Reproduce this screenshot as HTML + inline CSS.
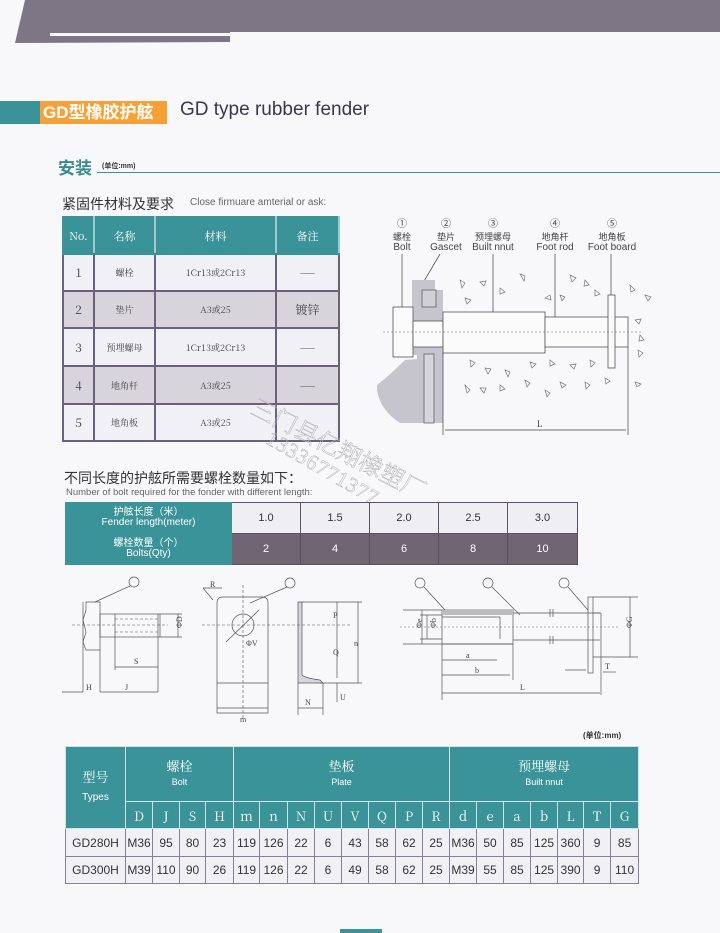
<!DOCTYPE html>
<html><head><meta charset="utf-8"><style>
*{margin:0;padding:0;box-sizing:border-box}
body{width:720px;height:933px;background:#f8f8fa;position:relative;overflow:hidden;font-family:"Liberation Sans","Noto Sans CJK SC",sans-serif;color:#333}
.a{position:absolute;white-space:nowrap}
table{position:absolute;border-collapse:collapse;table-layout:fixed}
td{text-align:center;vertical-align:middle;padding:0;overflow:hidden;white-space:nowrap}
.t1 td{border:2px solid #6a6080;font-family:"Noto Serif CJK SC","Liberation Serif",serif;font-size:9px;color:#444}
.t1 tr.h td{background:#3a9399;color:#fff;font-size:11px;border-color:#3a9399;border-right-color:#9fc9cc}
.t1 tr.g td{background:#d7d4dc}
.t1 tr.w td{background:#f1f0f4}
.t2 td{border:1px solid #5a5062;font-size:11px}
.t3 td{border:1px solid #8a8096;font-size:12px;color:#333}
.t3 .h td{background:#3a9399;color:#fff;border-color:#cfe4e6;font-family:"Noto Serif CJK SC","Liberation Serif",serif;font-size:13px}
.t3 .d td{background:#f1f0f4;font-size:12px}
.wm{position:absolute;color:transparent;-webkit-text-stroke:0.5px #b4b4b8;font-family:"Liberation Serif","Noto Serif CJK SC",serif;white-space:nowrap;transform-origin:0 0}
</style></head><body>
<svg class="a" style="left:0;top:0" width="720" height="50"><polygon points="25,0 720,0 720,32 230,32 230,42 15,43" fill="#7e7585"/><rect x="50" y="33" width="180" height="3" fill="#f8f8fa"/></svg>
<div class="a" style="left:0;top:101px;width:40px;height:23px;background:#3a9399"></div>
<div class="a" style="left:40px;top:101px;width:127px;height:23px;background:#f7a036;color:#fff;font-weight:bold;font-size:17px;line-height:23px;padding-left:3px">GD型橡胶护舷</div>
<div class="a" style="left:180px;top:99px;font-size:19px;color:#3a3650">GD type rubber fender</div>
<div class="a" style="left:58px;top:154px;font-size:17px;font-weight:bold;color:#3a8a90">安装</div>
<div class="a" style="left:102px;top:161px;font-size:7px;font-weight:bold;color:#333">(单位:mm)</div>
<div class="a" style="left:97px;top:172px;width:623px;height:1px;background:#3a9399"></div>
<div class="a" style="left:62px;top:194px;font-size:14px;color:#333">紧固件材料及要求</div>
<div class="a" style="left:190px;top:197px;font-size:10px;color:#666">Close firmuare amterial or ask:</div>

<table class="t1" style="left:62px;top:216px;width:276px">
<colgroup><col style="width:31px"><col style="width:61px"><col style="width:121px"><col style="width:63px"></colgroup>
<tr class="h" style="height:37px"><td>No.</td><td>名称</td><td>材料</td><td>备注</td></tr>
<tr class="w" style="height:37px"><td style="font-size:12px">1</td><td>螺栓</td><td>1Cr13或2Cr13</td><td>——</td></tr>
<tr class="g" style="height:37px"><td style="font-size:12px">2</td><td>垫片</td><td>A3或25</td><td style="font-size:12px">镀锌</td></tr>
<tr class="w" style="height:38px"><td style="font-size:12px">3</td><td>预埋螺母</td><td>1Cr13或2Cr13</td><td>——</td></tr>
<tr class="g" style="height:38px"><td style="font-size:12px">4</td><td>地角杆</td><td>A3或25</td><td>——</td></tr>
<tr class="w" style="height:37px"><td style="font-size:12px">5</td><td>地角板</td><td>A3或25</td><td></td></tr>
</table>

<svg class="a" style="left:360px;top:210px" width="300" height="240" font-family="Liberation Sans,Noto Sans CJK SC,sans-serif" font-size="10" fill="#444">
<g text-anchor="middle"><text x="42" y="17">①</text><text x="86" y="17">②</text><text x="133" y="17">③</text><text x="195" y="17">④</text><text x="252" y="17">⑤</text>
<text x="42" y="30" font-size="9">螺栓</text><text x="42" y="40">Bolt</text>
<text x="86" y="30" font-size="9">垫片</text><text x="86" y="40">Gascet</text>
<text x="133" y="30" font-size="9">预埋螺母</text><text x="133" y="40">Built nnut</text>
<text x="195" y="30" font-size="9">地角杆</text><text x="195" y="40">Foot rod</text>
<text x="252" y="30" font-size="9">地角板</text><text x="252" y="40">Foot board</text></g>
<g stroke="#555" stroke-width="0.8" fill="none"><line x1="42" y1="44" x2="42" y2="97"/><line x1="80" y1="44" x2="60" y2="78"/><line x1="133" y1="44" x2="133" y2="115"/><line x1="195" y1="44" x2="195" y2="120"/><line x1="251" y1="44" x2="251" y2="85"/></g>
<path d="M17,175 Q30,165 45,150 L83,147 L83,213 L40,213 Q20,200 17,180 Z" fill="#c6c4cc"/>
<path d="M52,70 L75,70 L75,80 L83,80 L83,213 L57,213 L57,145 L52,145 Z" fill="#c6c4cc"/>
<rect x="62" y="80" width="14" height="17" fill="#d0ced6" stroke="#555" stroke-width="0.7"/>
<rect x="64" y="144" width="10" height="69" fill="#d6d4dc" stroke="#555" stroke-width="0.7"/>
<g fill="#fbfbfc" stroke="#555" stroke-width="0.8"><rect x="33" y="97" width="20" height="50"/><rect x="53" y="111" width="30" height="26"/><rect x="83" y="102" width="102" height="41"/><rect x="185" y="107" width="83" height="30"/><rect x="248" y="85" width="7" height="73"/></g>
<line x1="23" y1="122" x2="283" y2="122" stroke="#666" stroke-width="0.6" stroke-dasharray="2,2"/>
<g stroke="#444" stroke-width="0.7"><line x1="83" y1="143" x2="83" y2="225"/><line x1="268" y1="137" x2="268" y2="225"/><line x1="85" y1="220" x2="266" y2="220"/></g>
<text x="177" y="217" font-size="9" font-family="Liberation Serif">L</text>
<g fill="none" stroke="#777" stroke-width="0.7">
<path d="M100,70 l5,3 -3,5z"/><path d="M120,72 l6,-1 -2,5z"/><path d="M140,78 l5,4 -5,2z"/><path d="M160,64 l5,2 -1,5z"/><path d="M185,88 l5,-3 1,5z"/><path d="M210,65 l6,3 -4,4z"/><path d="M225,70 l4,5 -5,1z"/><path d="M235,80 l5,4 -5,2z"/><path d="M270,75 l5,5 -4,2z"/><path d="M285,85 l6,2 -3,4z"/><path d="M105,88 l6,2 -4,4z"/><path d="M200,85 l5,2 -3,4z"/><path d="M110,150 l5,3 -4,4z"/><path d="M125,158 l6,1 -3,5z"/><path d="M145,160 l5,2 -2,5z"/><path d="M170,152 l6,2 -4,4z"/><path d="M190,150 l5,4 -5,2z"/><path d="M210,155 l6,-1 -2,5z"/><path d="M230,150 l5,3 -4,4z"/><path d="M140,175 l5,4 -5,2z"/><path d="M165,170 l5,3 -3,4z"/><path d="M200,172 l6,3 -4,3z"/><path d="M225,172 l5,3 -4,4z"/><path d="M105,175 l5,5 -3,3z"/><path d="M120,178 l6,0 -2,5z"/><path d="M185,180 l5,3 -3,4z"/><path d="M245,168 l5,3 -4,3z"/><path d="M275,110 l6,-1 -2,5z"/><path d="M280,125 l4,5 -5,1z"/><path d="M278,140 l5,3 -4,4z"/><path d="M275,172 l6,2 -4,3z"/></g>
</svg>

<div class="wm" style="left:262px;top:388px;font-size:24px;transform:rotate(27deg)">三门县亿翔橡塑厂</div>
<div class="wm" style="left:274px;top:426px;font-size:21px;letter-spacing:1px;transform:rotate(30deg)">13336771377</div>

<div class="a" style="left:64px;top:468px;font-size:14px;color:#333">不同长度的护舷所需要螺栓数量如下：</div>
<div class="a" style="left:66px;top:487px;font-size:9.5px;color:#666">Number of bolt required for the fonder with different length:</div>
<table class="t2" style="left:65px;top:502px;width:512px">
<colgroup><col style="width:166px"><col style="width:69px"><col style="width:69px"><col style="width:69px"><col style="width:69px"><col style="width:70px"></colgroup>
<tr style="height:31px"><td style="background:#3a9399;color:#fff;font-size:10px;line-height:10px;border-color:#3a9399">护舷长度（米）<br>Fender length(meter)</td><td style="background:#efeef2">1.0</td><td style="background:#efeef2">1.5</td><td style="background:#efeef2">2.0</td><td style="background:#efeef2">2.5</td><td style="background:#efeef2">3.0</td></tr>
<tr style="height:31px"><td style="background:#3a9399;color:#fff;font-size:10px;line-height:10px;border-color:#3a9399">螺栓数量（个）<br>Bolts(Qty)</td><td style="background:#6e6472;color:#fff">2</td><td style="background:#6e6472;color:#fff">4</td><td style="background:#6e6472;color:#fff">6</td><td style="background:#6e6472;color:#fff">8</td><td style="background:#6e6472;color:#fff">10</td></tr>
</table>

<svg class="a" style="left:0;top:570px" width="720" height="160" font-family="Liberation Serif,serif" font-size="8" fill="#444">
<g stroke="#555" stroke-width="0.7" fill="none">
<circle cx="134" cy="12" r="5"/><line x1="130" y1="16" x2="95" y2="32"/>
<path d="M86,32 L100,32 L100,80 L86,80 L83,72 L86,62 L83,50 L86,40 Z"/><line x1="83" y1="32" x2="83" y2="122"/><line x1="100" y1="80" x2="100" y2="122"/>
<rect x="100" y="44" width="60" height="23"/><line x1="115" y1="44" x2="115" y2="100"/><line x1="158" y1="44" x2="158" y2="122"/>
<line x1="160" y1="44" x2="182" y2="44"/><line x1="160" y1="67" x2="182" y2="67"/><line x1="178" y1="44" x2="178" y2="67"/>
<line x1="115" y1="97" x2="158" y2="97"/><line x1="100" y1="122" x2="158" y2="122"/><line x1="62" y1="122" x2="83" y2="122"/>
<path d="M217,33 Q217,27 223,27 L262,27 Q268,27 268,33 L268,143 L217,143 Z"/><line x1="217" y1="113" x2="268" y2="113"/>
<circle cx="243" cy="55" r="11"/><line x1="226" y1="72" x2="259" y2="40"/><line x1="217" y1="138" x2="268" y2="138"/>
<line x1="203" y1="18" x2="213" y2="30"/><line x1="203" y1="18" x2="222" y2="18"/>
<circle cx="290" cy="13" r="5"/><line x1="287" y1="17" x2="250" y2="33"/>
<path d="M298,32 L302,32 L302,105 Q305,108 320,110 L323,113 L298,113 Z" fill="#d6d4dc"/>
<line x1="302" y1="32" x2="362" y2="32"/><line x1="320" y1="113" x2="362" y2="113"/><line x1="358" y1="32" x2="358" y2="113"/><line x1="337" y1="32" x2="337" y2="108"/><line x1="337" y1="113" x2="337" y2="132"/>
<line x1="298" y1="113" x2="298" y2="145"/><line x1="323" y1="113" x2="323" y2="145"/><line x1="298" y1="138" x2="323" y2="138"/>
</g>
<g stroke="#555" stroke-width="0.6" stroke-dasharray="3,2" fill="none"><line x1="72" y1="55" x2="168" y2="55"/><line x1="202" y1="55" x2="352" y2="55"/><line x1="243" y1="15" x2="243" y2="150"/><line x1="115" y1="49" x2="158" y2="49"/><line x1="115" y1="62" x2="158" y2="62"/></g>
<text x="134" y="94">S</text><text x="125" y="120">J</text><text x="86" y="120">H</text><text x="180" y="60" transform="rotate(-90 180 58)">ΦD</text><text x="210" y="17">R</text><text x="246" y="76">ΦV</text><text x="240" y="152">m</text><text x="305" y="135">N</text><text x="340" y="130">U</text><text x="333" y="48">P</text><text x="333" y="85">Q</text><text x="354" y="76">n</text>
</svg>

<svg class="a" style="left:380px;top:570px" width="280" height="140" font-family="Liberation Serif,serif" font-size="8" fill="#444">
<g stroke="#555" stroke-width="0.7" fill="none">
<circle cx="40" cy="13" r="5"/><circle cx="108" cy="13" r="5"/><circle cx="184" cy="13" r="5"/>
<line x1="44" y1="17" x2="65" y2="40"/><line x1="112" y1="17" x2="140" y2="45"/><line x1="188" y1="17" x2="208" y2="40"/>
<rect x="62" y="40" width="71" height="34"/><line x1="23" y1="40" x2="62" y2="40"/><line x1="23" y1="74" x2="133" y2="74"/><line x1="42" y1="40" x2="42" y2="74"/>
<line x1="40" y1="45" x2="62" y2="45"/><line x1="40" y1="69" x2="62" y2="69"/><line x1="47" y1="45" x2="47" y2="69"/><line x1="62" y1="47" x2="120" y2="47"/><line x1="120" y1="47" x2="120" y2="69"/>
<line x1="133" y1="43" x2="220" y2="43"/><line x1="133" y1="70" x2="220" y2="70"/><line x1="170" y1="39" x2="170" y2="47"/><line x1="173" y1="39" x2="173" y2="47"/><line x1="170" y1="66" x2="170" y2="74"/><line x1="173" y1="66" x2="173" y2="74"/>
<rect x="208" y="27" width="5" height="76"/><line x1="213" y1="43" x2="221" y2="43"/><line x1="221" y1="43" x2="221" y2="125"/>
<line x1="213" y1="27" x2="258" y2="27"/><line x1="213" y1="87" x2="258" y2="87"/><line x1="250" y1="27" x2="250" y2="87"/>
<line x1="62" y1="74" x2="62" y2="130"/><line x1="133" y1="74" x2="133" y2="110"/><line x1="62" y1="90" x2="117" y2="90"/><line x1="62" y1="105" x2="130" y2="105"/><line x1="62" y1="123" x2="220" y2="123"/>
<line x1="185" y1="100" x2="206" y2="100"/><line x1="223" y1="102" x2="236" y2="102"/>
</g>
<path d="M62,40 h71 v5 h-71z" fill="#bbb"/>
<line x1="20" y1="57" x2="240" y2="57" stroke="#666" stroke-width="0.6" stroke-dasharray="2,2"/>
<text x="86" y="88">a</text><text x="95" y="103">b</text><text x="140" y="120">L</text><text x="225" y="99">T</text><text x="38" y="62" transform="rotate(-90 38 58)">Φe</text><text x="52" y="62" transform="rotate(-90 52 58)">Φb</text><text x="248" y="62" transform="rotate(-90 248 58)">ΦG</text>
</svg>

<div class="a" style="left:583px;top:730px;font-size:8px;font-weight:bold;color:#333">(单位:mm)</div>

<table class="t3" style="left:65px;top:746px;width:573px">
<colgroup><col style="width:60px"><col style="width:27px"><col style="width:27px"><col style="width:26px"><col style="width:28px"><col style="width:26px"><col style="width:28px"><col style="width:27px"><col style="width:27px"><col style="width:27px"><col style="width:27px"><col style="width:27px"><col style="width:27px"><col style="width:27px"><col style="width:27px"><col style="width:27px"><col style="width:27px"><col style="width:26px"><col style="width:27px"><col style="width:28px"></colgroup>
<tr class="h" style="height:55px"><td rowspan="2" style="line-height:18px">型号<br><span style="font-family:Liberation Sans;font-size:10px">Types</span></td><td colspan="4" style="line-height:14px">螺栓<br><span style="font-family:Liberation Sans;font-size:9px">Bolt</span></td><td colspan="8" style="line-height:14px">垫板<br><span style="font-family:Liberation Sans;font-size:9px">Plate</span></td><td colspan="7" style="line-height:14px">预埋螺母<br><span style="font-family:Liberation Sans;font-size:9px">Built nnut</span></td></tr>
<tr class="h" style="height:27px"><td>D</td><td>J</td><td>S</td><td>H</td><td>m</td><td>n</td><td>N</td><td>U</td><td>V</td><td>Q</td><td>P</td><td>R</td><td>d</td><td>e</td><td>a</td><td>b</td><td>L</td><td>T</td><td>G</td></tr>
<tr class="d" style="height:28px"><td>GD280H</td><td>M36</td><td>95</td><td>80</td><td>23</td><td>119</td><td>126</td><td>22</td><td>6</td><td>43</td><td>58</td><td>62</td><td>25</td><td>M36</td><td>50</td><td>85</td><td>125</td><td>360</td><td>9</td><td>85</td></tr>
<tr class="d" style="height:27px"><td>GD300H</td><td>M39</td><td>110</td><td>90</td><td>26</td><td>119</td><td>126</td><td>22</td><td>6</td><td>49</td><td>58</td><td>62</td><td>25</td><td>M39</td><td>55</td><td>85</td><td>125</td><td>390</td><td>9</td><td>110</td></tr>
</table>
<div class="a" style="left:340px;top:929px;width:42px;height:4px;background:#3a9399"></div>
</body></html>
